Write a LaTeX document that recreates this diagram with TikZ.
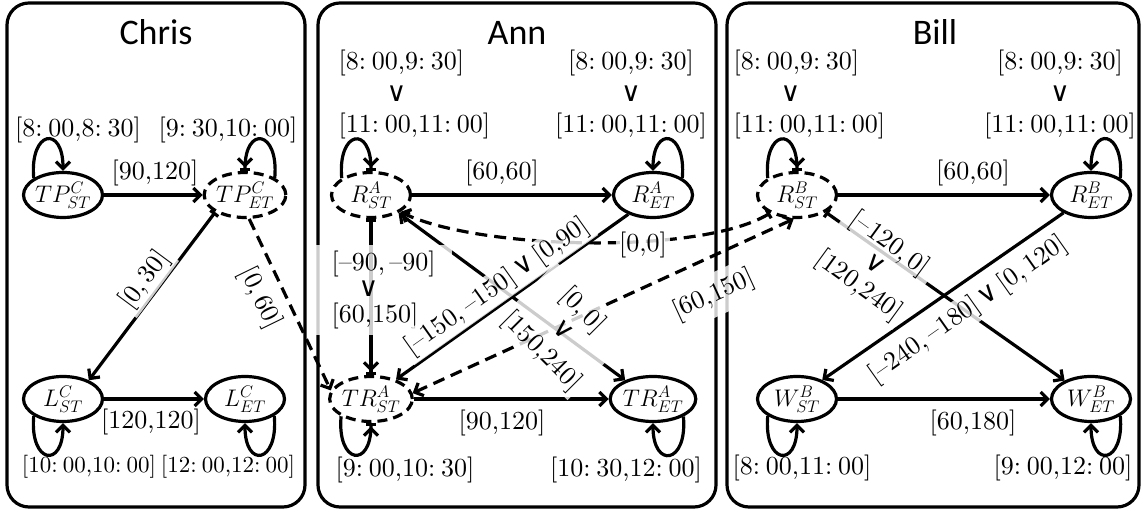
\RequirePackage{fix-cm}
\documentclass[tikz,border=0pt]{standalone}
\usepackage{fontspec}
\setmainfont{lmroman10-regular.otf}
\newfontfamily\titlefont{Carlito}
\newfontfamily\symfont{DejaVu Sans}
\usetikzlibrary{arrows.meta,shapes.geometric}
% interval, clock colon, minus and "or" helpers
\newcommand\iv[1]{[#1]}
\newcommand\cln{:\hspace{0.22em}}
\newcommand\mns{--}
\newcommand\orv{{\symfont\fontsize{27}{27}\selectfont ∨}}
\tikzset{Hd/.tip={Straight Barb[length=7pt,width=14pt]}}
\begin{document}
\begin{tikzpicture}[x=1pt,y=1pt,line width=3.2pt,
  st/.style={ellipse,draw,inner sep=0pt,minimum width=79pt,minimum height=45pt,
             font=\fontsize{24}{24}\selectfont},
  dst/.style={st,dash pattern=on 10pt off 6pt},
  edge/.style={-{Hd[]}},
  baredge/.style={-{Hd[] Bar[width=10pt]}},
  dedge/.style={dash pattern=on 12pt off 7pt},
  lbl/.style={font=\fontsize{26}{31.5}\selectfont,inner sep=3pt},
  elbl/.style={lbl,fill=white,fill opacity=0.8,text opacity=1},
  sml/.style={lbl,font=\fontsize{23}{23}\selectfont},
  panel/.style={draw,rounded corners=22pt,minimum height=504pt},
  title/.style={font=\titlefont\fontsize{36}{36}\selectfont,anchor=base},
]
\useasboundingbox (0,0) rectangle (1145,510);

% panels and their titles
\node[panel,minimum width=298pt] (chrisbox) at (156,255) {};
\node[panel,minimum width=398pt] (annbox)   at (517,255) {};
\node[panel,minimum width=412pt] (billbox)  at (933,255) {};
\node[title] (chris) at (156,465) {Chris};
\node[title] (ann)   at (517,465) {Ann};
\node[title] (bill)  at (935,465) {Bill};

% states
\node[st]  (TPCst) at (63,315)   {$TP^C_{ST}$};
\node[dst] (TPCet) at (245,315)  {$TP^C_{ET}$};
\node[st]  (LCst)  at (63,111)   {$L^C_{ST}$};
\node[st]  (LCet)  at (245,111)  {$L^C_{ET}$};
\node[dst] (RAst)  at (371,315)  {$R^A_{ST}$};
\node[st]  (RAet)  at (653,315)  {$R^A_{ET}$};
\node[dst] (TRAst) at (371,111)  {$TR^A_{ST}$};
\node[st]  (TRAet) at (653,111)  {$TR^A_{ET}$};
\node[dst] (RBst)  at (797,315)  {$R^B_{ST}$};
\node[st]  (RBet)  at (1091,315) {$R^B_{ET}$};
\node[st]  (WBst)  at (797,111)  {$W^B_{ST}$};
\node[st]  (WBet)  at (1091,111) {$W^B_{ET}$};

% Chris
\draw[edge] (TPCst) -- (TPCet);
\draw[{Bar[width=10pt]}-{Hd[]}] (TPCet.210) -- (LCst.36);
\draw[dedge,-{Hd[]}] (TPCet.280) -- (TRAst.168);
\draw[edge] (LCst) -- (LCet);
\draw[edge] (TPCst.150) .. controls +(95:48) and +(90:46) .. (TPCst.north);
\draw[baredge] (TPCet.30) .. controls +(85:48) and +(90:46) .. (TPCet.north);
\draw[edge] (LCst.210) .. controls +(265:48) and +(270:46) .. (LCst.south);
\draw[edge] (LCet.330) .. controls +(275:48) and +(270:46) .. (LCet.south);

% Ann
\draw[edge] (RAst) -- (RAet);
\draw[{Bar[width=10pt]}-{Hd[] Bar[width=10pt]}] (RAst.south) -- (TRAst.north);
\draw[edge] (RAet.218) -- (TRAst.38);
\draw[{Hd[]}-{Hd[]}] (RAst.327) -- (TRAet.146);
\draw[edge] (TRAst) -- (TRAet);
\draw[baredge] (RAst.150) .. controls +(95:48) and +(90:46) .. (RAst.north);
\draw[edge] (RAet.30) .. controls +(85:48) and +(90:46) .. (RAet.north);
\draw[baredge] (TRAst.210) .. controls +(265:48) and +(270:46) .. (TRAst.south);
\draw[edge] (TRAet.330) .. controls +(275:48) and +(270:46) .. (TRAet.south);

% links between Ann and Bill
\draw[dedge,{Hd[]}-{Hd[]}] (TRAst.8) -- (RBst.262);
\draw[dedge,{Bar[width=10pt]}-{Hd[]}] (RBst.214) .. controls (700,255) and (480,260) .. (RAst.330);

% Bill
\draw[edge] (RBst) -- (RBet);
\draw[{Bar[width=10pt]}-{Hd[]}] (RBst.329) -- (WBet.145);
\draw[edge] (RBet.213) -- (WBst.37);
\draw[edge] (WBst) -- (WBet);
\draw[baredge] (RBst.150) .. controls +(95:48) and +(90:46) .. (RBst.north);
\draw[edge] (RBet.30) .. controls +(85:48) and +(90:46) .. (RBet.north);
\draw[edge] (WBst.210) .. controls +(265:48) and +(270:46) .. (WBst.south);
\draw[edge] (WBet.330) .. controls +(275:48) and +(270:46) .. (WBet.south);

% Chris labels
\node[lbl,anchor=base] (c1) at (78,373)  {\iv{8\cln00,8\cln30}};
\node[lbl,anchor=base] (c2) at (228,373) {\iv{9\cln30,10\cln00}};
\node[lbl,anchor=base] (c3) at (155,330) {\iv{90,120}};
\node[elbl,rotate=53.5] (c4) at (145,230) {\iv{0,\,30}};
\node[elbl,rotate=-64]  (c5) at (260,212) {\iv{0,\,60}};
\node[lbl,anchor=base] (c6) at (151,81)  {\iv{120,120}};
\node[sml,anchor=base] (c7) at (89,37)   {\iv{10\cln00,10\cln00}};
\node[sml,anchor=base] (c8) at (228,37)  {\iv{12\cln00,12\cln00}};

% Ann labels
\node[lbl,align=left,anchor=west] (a1) at (334,415)
  {\iv{8\cln00,9\cln30}\\\hspace*{48pt}\orv\\\iv{11\cln00,11\cln00}};
\node[lbl,align=center] (a2) at (631,415)
  {\iv{8\cln00,9\cln30}\\\orv\hspace*{52pt}\\\iv{11\cln00,11\cln00}};
\node[lbl,anchor=base] (a3) at (502,330) {\iv{60,60}};
\node[elbl,align=left,anchor=west,inner xsep=16pt,inner ysep=6pt,
      font=\fontsize{26}{26}\selectfont] (a4) at (314,219.5)
  {\iv{\mns90,\,\mns90}\\\hspace*{27pt}\orv\\\iv{60,150}};
\node[elbl,rotate=35.3] (a5) at (497,223)
  {\iv{\mns150,\,\mns150}\,\orv\,\iv{0,90}};
\node[elbl,align=center,rotate=-45,font=\fontsize{26}{29}\selectfont] (a6) at (562,179)
  {\iv{0,\,0}\\\orv\\\iv{150,240}};
\node[elbl,anchor=base] (a7) at (643,258) {\iv{0,0}};
\node[elbl,rotate=24.7,inner sep=8pt] (a8) at (714,215) {\iv{60,150}};
\node[lbl,anchor=base] (a9)  at (502,80) {\iv{90,120}};
\node[lbl,anchor=base] (a10) at (405,33) {\iv{9\cln00,10\cln30}};
\node[lbl,anchor=base] (a11) at (626,33) {\iv{10\cln30,12\cln00}};

% Bill labels
\node[lbl,align=left,anchor=west] (b1) at (729,415)
  {\iv{8\cln00,9\cln30}\\\hspace*{47pt}\orv\\\iv{11\cln00,11\cln00}};
\node[lbl,align=center] (b2) at (1060,415)
  {\iv{8\cln00,9\cln30}\\\orv\hspace*{54pt}\\\iv{11\cln00,11\cln00}};
\node[lbl,anchor=base] (b3) at (973,330) {\iv{60,60}};
\node[elbl,align=center,rotate=-36,font=\fontsize{26}{26}\selectfont] (b4) at (874,245)
  {\iv{\mns120,\,0}\\\orv\\\iv{120,240}};
\node[elbl,rotate=35.2] (b5) at (968,200)
  {\iv{\mns240,\,\mns180}\,\orv\,\iv{0,\,120}};
\node[lbl,anchor=base] (b6) at (973,80)  {\iv{60,180}};
\node[lbl,anchor=base] (b7) at (802,35)  {\iv{8\cln00,11\cln00}};
\node[lbl,anchor=base] (b8) at (1063,35) {\iv{9\cln00,12\cln00}};
\end{tikzpicture}
\end{document}
